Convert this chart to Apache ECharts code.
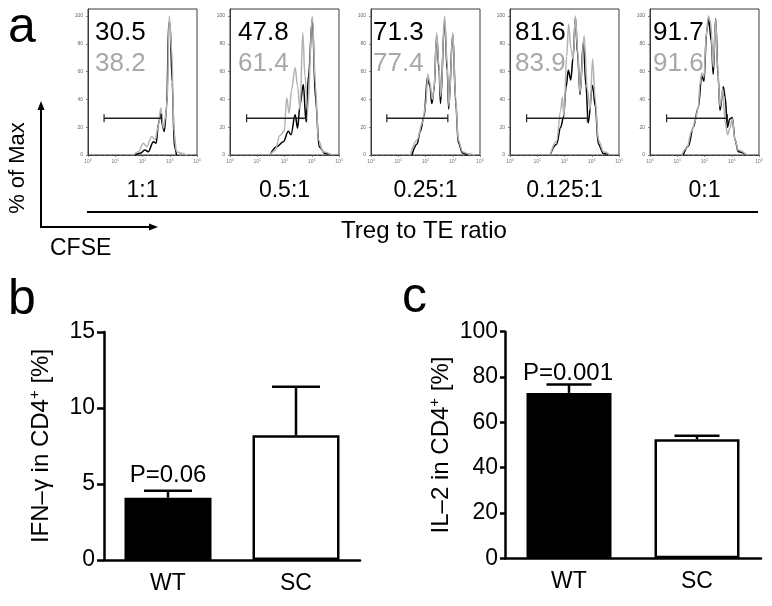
<!DOCTYPE html>
<html><head><meta charset="utf-8">
<script src="https://cdn.jsdelivr.net/npm/echarts@6/dist/echarts.min.js"></script>
<style>html,body{margin:0;padding:0;background:#fff}#c{width:772px;height:606px}</style>
</head><body><div id="c"></div>
<script>
// ---------- data ----------
const ratios = ['1:1', '0.5:1', '0.25:1', '0.125:1', '0:1'];
const blackPct = ['30.5', '47.8', '71.3', '81.6', '91.7'];
const grayPct = ['38.2', '61.4', '77.4', '83.9', '91.6'];
// histogram curves: [log10(CFSE), % of Max]
const h1Gray = [[1.66,0],[1.85,2.4],[2.03,8.5],[2.15,6],[2.34,13.3],[2.46,10.9],[2.58,20.5],[2.67,33.8],[2.77,19.3],[2.83,25.4],[2.91,40],[2.98,100],[3.07,76],[3.16,15.7],[3.25,2.4],[3.44,1.2],[3.62,0]];
const h1Black = [[1.72,0],[1.91,1.2],[2.09,3.6],[2.21,2.4],[2.40,9.6],[2.50,8.4],[2.59,22.9],[2.67,30.2],[2.74,20.5],[2.80,16.9],[2.89,35],[2.96,95],[3.01,95],[3.09,52],[3.17,6],[3.25,0]];
const h2Gray = [[1.47,0],[1.65,3],[1.83,14],[1.99,17],[2.08,41],[2.17,30],[2.26,47],[2.39,63],[2.48,49.5],[2.57,32.7],[2.67,88],[2.75,57],[2.85,31.5],[3.02,100],[3.14,49.5],[3.24,11],[3.42,2.4],[3.73,0]];
const h2Black = [[1.47,0],[1.71,5.9],[1.96,9.6],[2.14,17],[2.24,14.5],[2.39,29],[2.48,19.3],[2.57,36],[2.69,50.7],[2.79,24],[2.88,57],[3.02,98],[3.14,40],[3.27,5.9],[3.49,1],[3.73,0]];
const h3Gray = [[1.44,0],[1.69,10.8],[1.88,22.9],[2.0,35],[2.09,58],[2.16,52],[2.25,40],[2.31,47],[2.41,88],[2.49,64],[2.56,42],[2.70,100],[2.80,64],[2.86,35],[3.0,88],[3.11,40],[3.20,11],[3.36,2.4],[3.54,1],[3.79,0]];
const h3Black = [[1.50,0],[1.69,8],[1.81,17],[1.95,28],[2.07,56],[2.16,50],[2.23,37],[2.31,46],[2.41,86],[2.50,60],[2.55,37],[2.70,97],[2.80,60],[2.85,33],[3.0,87],[3.11,38],[3.20,9],[3.36,1.5],[3.54,0]];
const h4Gray = [[1.47,0],[1.71,10.1],[1.86,32],[1.92,41.7],[1.98,28],[2.08,71],[2.15,94],[2.24,76],[2.32,68.7],[2.40,100],[2.48,76],[2.57,45],[2.72,85.7],[2.84,47],[2.94,32.6],[3.03,69],[3.13,40],[3.24,11],[3.43,2.4],[3.67,0]];
const h4Black = [[1.47,0],[1.71,7.8],[1.86,20],[1.96,27],[2.06,49],[2.14,61],[2.23,54],[2.32,71],[2.40,99],[2.48,73],[2.57,43.5],[2.69,81],[2.79,49.5],[2.87,23],[3.03,50],[3.13,35],[3.24,8],[3.43,1],[3.67,0]];
const h5Gray = [[1.16,0],[1.35,5],[1.53,17],[1.65,24],[1.77,34],[1.83,50.7],[1.90,59],[1.98,56],[2.06,85],[2.14,100],[2.23,95],[2.32,63],[2.41,97.5],[2.48,63],[2.57,35],[2.67,47.6],[2.75,24],[2.85,14.5],[2.94,19.8],[3.02,26],[3.12,10.8],[3.24,3.6],[3.55,0]];
const h5Black = [[1.22,0],[1.41,6.5],[1.59,20],[1.77,34],[1.90,57],[1.98,53],[2.08,88.8],[2.15,98],[2.25,82],[2.32,58],[2.41,98],[2.50,56],[2.57,32],[2.69,49],[2.76,41.6],[2.84,20],[2.93,26],[3.02,27],[3.12,10.8],[3.24,2.4],[3.55,0]];
const grayCurves = [h1Gray, h2Gray, h3Gray, h4Gray, h5Gray];
const blackCurves = [h1Black, h2Black, h3Black, h4Black, h5Black];
// gate (log10 start, log10 end) and its level in % of Max
const gateLog = [[0.59, 2.70], [0.61, 2.81], [0.58, 2.82], [0.61, 2.84], [0.61, 2.84]];
const gatePct = 26.5;

const groups = ['WT', 'SC'];
const ifnMean = [4.1, 8.2];
const ifnSem = [0.45, 3.2];
const il2Mean = [73.0, 52.5];
const il2Sem = [3.7, 1.6];
const pValues = ['P=0.06', 'P=0.001'];

// ---------- layout ----------
const FONT = 'Liberation Sans, Arial, Helvetica, sans-serif';
const histLeft = [88, 230, 371, 510, 650];
const histW = 109, histTop = 9, histH = 146;
const numOffX = [7, 8, 2, 5, 3];
const curveGray = '#b3b3b3', numGray = '#a8a8a8';

const chart = echarts.init(document.getElementById('c'), null, {renderer: 'canvas'});

const grid = [], xAxis = [], yAxis = [], series = [], graphic = [];

for (let i = 0; i < 5; i++) {
  grid.push({left: histLeft[i], top: histTop, width: histW, height: histH,
    show: true, borderColor: '#3a3a3a', borderWidth: 1});
  // x axis in decades of CFSE intensity (log10 scale), labelled 10^n
  xAxis.push({type: 'value', gridIndex: i, min: 0, max: 4, interval: 1,
    name: ratios[i], nameLocation: 'middle', nameGap: 24,
    nameTextStyle: {fontFamily: FONT, fontSize: 23, color: '#000'},
    axisLine: {show: true, lineStyle: {color: '#3a3a3a', width: 1}},
    axisTick: {show: true, length: 2, lineStyle: {color: '#666', width: 0.8}},
    minorTick: {show: true, splitNumber: 5, length: 1.2, lineStyle: {color: '#999', width: 0.6}},
    splitLine: {show: false}, minorSplitLine: {show: false},
    axisLabel: {margin: 3, color: '#777', fontFamily: FONT,
      formatter: v => '{b|10}{s|' + v + '}',
      rich: {b: {fontSize: 5, color: '#777', lineHeight: 7, fontFamily: FONT},
             s: {fontSize: 3.5, color: '#777', verticalAlign: 'top', lineHeight: 7, fontFamily: FONT}}}
  });
  yAxis.push({type: 'value', gridIndex: i, min: 0, max: 105, interval: 20,
    axisLine: {show: true, lineStyle: {color: '#3a3a3a', width: 1}},
    axisTick: {show: true, length: 2, lineStyle: {color: '#666', width: 0.8}},
    axisLabel: {fontSize: 5, color: '#666', margin: 5, showMaxLabel: false},
    splitLine: {show: false}
  });
  series.push({type: 'line', xAxisIndex: i, yAxisIndex: i, data: blackCurves[i],
    showSymbol: false, symbol: 'none', smooth: 0.35, smoothMonotone: 'x',
    lineStyle: {color: '#000', width: 1.5}, z: 3, silent: true});
  series.push({type: 'line', xAxisIndex: i, yAxisIndex: i, data: grayCurves[i],
    showSymbol: false, symbol: 'none', smooth: 0.35, smoothMonotone: 'x',
    lineStyle: {color: curveGray, width: 1.5}, z: 4, silent: true});
  series.push({type: 'line', xAxisIndex: i, yAxisIndex: i,
    data: [[gateLog[i][0], gatePct], [gateLog[i][1], gatePct]],
    symbol: 'rect', symbolSize: [1.2, 8], showSymbol: true,
    itemStyle: {color: '#222'}, lineStyle: {color: '#222', width: 1.5}, z: 5, silent: true});
  graphic.push({type: 'text', x: histLeft[i] + numOffX[i], y: 33,
    style: {text: blackPct[i], fontFamily: FONT, fontSize: 26, fill: '#000', verticalAlign: 'middle'}});
  graphic.push({type: 'text', x: histLeft[i] + numOffX[i], y: 64,
    style: {text: grayPct[i], fontFamily: FONT, fontSize: 26, fill: numGray, verticalAlign: 'middle'}});
}

// bar panels
const barPanels = [
  {left: 104, top: 332, width: 256, height: 228, max: 15, interval: 5, mean: ifnMean, sem: ifnSem,
   title: 'IFN–γ in CD4{sup|+} [%]', barW: 87, cap: 48, tick: 7, margin: 9},
  {left: 505, top: 331.7, width: 256, height: 226.6, max: 100, interval: 20, mean: il2Mean, sem: il2Sem,
   title: 'IL–2 in CD4{sup|+} [%]', barW: 85, cap: 45, tick: 5, margin: 7}
];
const barFill = ['#000', '#fff'];
barPanels.forEach((p, k) => {
  const gi = 5 + k;
  grid.push({left: p.left, top: p.top, width: p.width, height: p.height});
  xAxis.push({type: 'category', gridIndex: gi, data: groups,
    axisLine: {lineStyle: {color: '#000', width: 2.5}},
    axisTick: {alignWithLabel: true, length: 8, lineStyle: {color: '#000', width: 2.5}},
    axisLabel: {fontFamily: FONT, fontSize: 23, color: '#000', margin: 12}
  });
  yAxis.push({type: 'value', gridIndex: gi, min: 0, max: p.max, interval: p.interval,
    name: p.title, nameLocation: 'middle', nameRotate: 90, nameGap: 49,
    nameTextStyle: {fontFamily: FONT, fontSize: 24, color: '#000', lineHeight: 28,
      rich: {sup: {fontFamily: FONT, fontSize: 15, color: '#000', verticalAlign: 'top', lineHeight: 28}}},
    axisLine: {show: true, lineStyle: {color: '#000', width: 2.5}},
    axisTick: {show: true, length: p.tick, lineStyle: {color: '#000', width: 2.5}},
    axisLabel: {fontFamily: FONT, fontSize: 23, color: '#000', margin: p.margin},
    splitLine: {show: false}
  });
  series.push({type: 'bar', xAxisIndex: gi, yAxisIndex: gi, barWidth: p.barW,
    data: p.mean.map((v, i) => ({value: v, itemStyle: {color: barFill[i], borderColor: '#000', borderWidth: 2.5}})),
    silent: true, z: 2});
  series.push({type: 'custom', xAxisIndex: gi, yAxisIndex: gi, z: 5, silent: true,
    encode: {x: 0, y: 1},
    data: p.mean.map((v, i) => [i, v, p.sem[i]]),
    renderItem: (params, api) => {
      const x = api.value(0), m = api.value(1), s = api.value(2);
      const b = api.coord([x, m]), t = api.coord([x, m + s]);
      const h = p.cap / 2;
      return {type: 'group', children: [
        {type: 'line', shape: {x1: b[0], y1: b[1], x2: t[0], y2: t[1]}, style: {stroke: '#000', lineWidth: 2.5}},
        {type: 'line', shape: {x1: t[0] - h, y1: t[1], x2: t[0] + h, y2: t[1]}, style: {stroke: '#000', lineWidth: 2.5}}
      ]};
    }
  });
});

// panel letters and annotations
graphic.push(
  {type: 'text', x: 8, y: 28, style: {text: 'a', fontFamily: FONT, fontSize: 50, fill: '#000', verticalAlign: 'middle'}},
  {type: 'text', x: 8, y: 300, style: {text: 'b', fontFamily: FONT, fontSize: 50, fill: '#000', verticalAlign: 'middle'}},
  {type: 'text', x: 402, y: 298, style: {text: 'c', fontFamily: FONT, fontSize: 50, fill: '#000', verticalAlign: 'middle'}},
  {type: 'text', x: 18, y: 168, rotation: Math.PI / 2,
    style: {text: '% of Max', fontFamily: FONT, fontSize: 22, fill: '#000', align: 'center', verticalAlign: 'middle'}},
  {type: 'polyline', shape: {points: [[41, 108], [41, 227], [150, 227]]}, style: {stroke: '#000', lineWidth: 2, fill: null}},
  {type: 'polygon', shape: {points: [[41, 101], [37.5, 110], [44.5, 110]]}, style: {fill: '#000'}},
  {type: 'polygon', shape: {points: [[158, 227], [149, 223.5], [149, 230.5]]}, style: {fill: '#000'}},
  {type: 'text', x: 50, y: 249, style: {text: 'CFSE', fontFamily: FONT, fontSize: 23, fill: '#000', verticalAlign: 'middle'}},
  {type: 'line', shape: {x1: 87, y1: 212, x2: 758, y2: 212}, style: {stroke: '#000', lineWidth: 2}},
  {type: 'text', x: 424, y: 231, style: {text: 'Treg to TE ratio', fontFamily: FONT, fontSize: 24, fill: '#000', align: 'center', verticalAlign: 'middle'}},
  {type: 'text', x: 168, y: 475, style: {text: pValues[0], fontFamily: FONT, fontSize: 24, fill: '#000', align: 'center', verticalAlign: 'middle'}},
  {type: 'text', x: 568, y: 373, style: {text: pValues[1], fontFamily: FONT, fontSize: 24, fill: '#000', align: 'center', verticalAlign: 'middle'}}
);

chart.setOption({
  animation: false,
  backgroundColor: '#fff',
  grid, xAxis, yAxis, series, graphic
});
</script></body></html>
